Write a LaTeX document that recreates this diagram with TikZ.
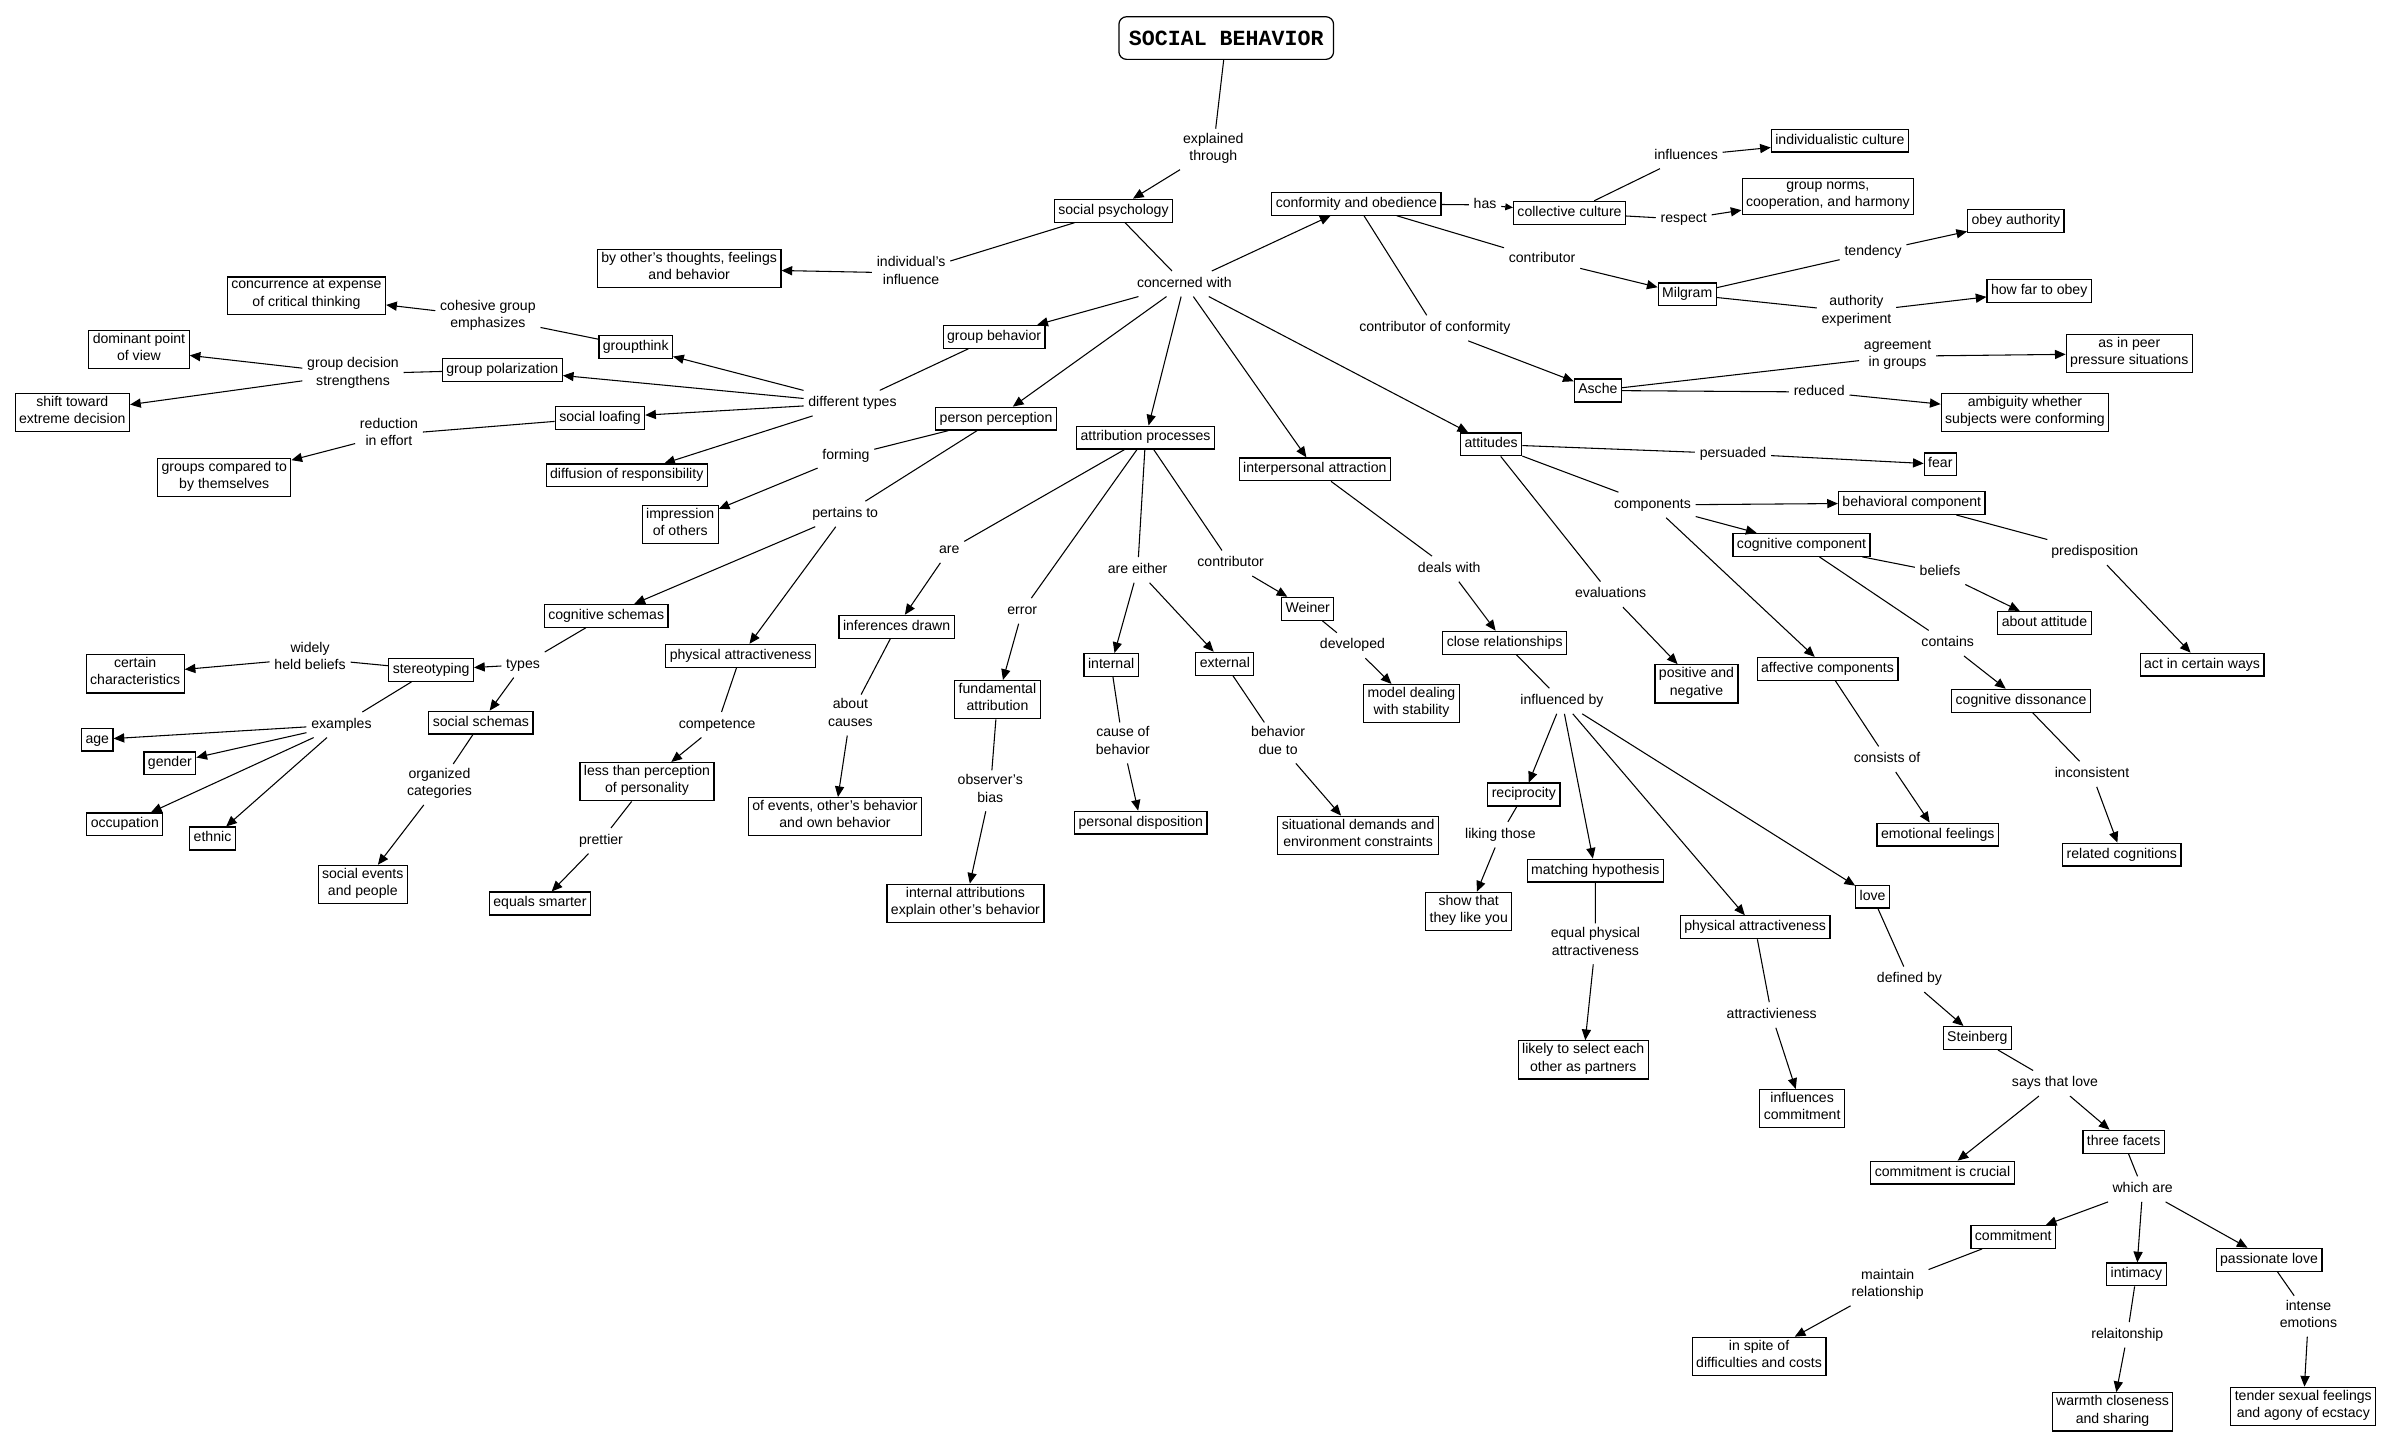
\documentclass[tikz,border=0pt]{standalone}
\usepackage{fontspec}
\setmainfont{Liberation Sans}
\newfontfamily\titlefont{Liberation Mono}
\usetikzlibrary{arrows.meta}
\newcommand\mapfont{\fontsize{9.25pt}{11.4pt}\selectfont}
\begin{document}
\begin{tikzpicture}[x=1pt,y=-1pt,
 every node/.style={font=\mapfont},
 concept/.style={draw, line width=0.8pt, inner xsep=2.6pt, inner ysep=1.8pt, align=center, execute at begin node=\strut, execute at end node=\strut},
 lnk/.style={inner xsep=3pt, inner ysep=2.5pt, align=center, execute at begin node=\strut, execute at end node=\strut},
 title/.style={draw, line width=0.8pt, rounded corners=5pt, minimum width=141pt, minimum height=28pt, font={\titlefont\bfseries\fontsize{14.2pt}{17pt}\selectfont}},
 ln/.style={line width=0.7pt},
 arr/.style={line width=0.7pt, -{Triangle[length=7pt,width=6pt]}},
 sarr/.style={line width=0.7pt, -{Triangle[length=5pt,width=4.5pt]}}]
\useasboundingbox (0,0) rectangle (1568,954);
\fill[white] (0,0) rectangle (1568,954);
% ---------- concepts ----------
\node[title] (sb) at (805.5,25) {SOCIAL BEHAVIOR};
\node[concept] (sp) at (731.4,138.4) {social psychology};
\node[concept] (co) at (891,133.8) {conformity and obedience};
\node[concept] (cc) at (1031,139.8) {collective culture};
\node[concept] (ic) at (1208.6,92.4) {individualistic culture};
\node[concept] (gn) at (1200.7,129.2) {group norms,\\cooperation, and harmony};
\node[concept] (bo) at (452.7,176.5) {by other's thoughts, feelings\\and behavior};
\node[concept] (gb) at (653,221.2) {group behavior};
\node[concept] (pp) at (654.3,275) {person perception};
\node[concept] (ap) at (752.5,287.4) {attribution processes};
\node[concept] (ia) at (863.7,308.3) {interpersonal attraction};
\node[concept] (at) at (979.5,291.9) {attitudes};
\node[concept] (mil) at (1108.3,193.4) {Milgram};
\node[concept] (oa) at (1324.2,145) {obey authority};
\node[concept] (hf) at (1339.5,191) {how far to obey};
\node[concept] (as) at (1049.6,256.5) {Asche};
\node[concept] (pe) at (1398.7,232.3) {as in peer\\pressure situations};
\node[concept] (am) at (1330.2,271) {ambiguity whether\\subjects were conforming};
\node[concept] (fe) at (1274.6,305) {fear};
\node[concept] (gt) at (417.6,227.8) {groupthink};
\node[concept] (gpz) at (330,242.9) {group polarization};
\node[concept] (sl) at (394.1,274.4) {social loafing};
\node[concept] (dr) at (411.7,312.3) {diffusion of responsibility};
\node[concept] (con) at (201.3,194.2) {concurrence at expense\\of critical thinking};
\node[concept] (dp) at (91.3,229.7) {dominant point\\of view};
\node[concept] (st) at (47.5,271) {shift toward\\extreme decision};
\node[concept] (gc) at (147.3,313.7) {groups compared to\\by themselves};
\node[concept] (io) at (446.8,344.7) {impression\\of others};
\node[concept] (cs) at (398.2,404.5) {cognitive schemas};
\node[concept] (pa1) at (486.5,430.8) {physical attractiveness};
\node[concept] (ste) at (283.2,440) {stereotyping};
\node[concept] (ss) at (315.9,474.7) {social schemas};
\node[concept] (cch) at (88.8,442.6) {certain\\characteristics};
\node[concept] (age) at (63.9,485.8) {age};
\node[concept] (gen) at (111.6,501.5) {gender};
\node[concept] (occ) at (82,541.5) {occupation};
\node[concept] (eth) at (139.6,550.8) {ethnic};
\node[concept] (se) at (238.3,581) {social events\\and people};
\node[concept] (lt) at (425,513.5) {less than perception\\of personality};
\node[concept] (es) at (354.7,593.5) {equals smarter};
\node[concept] (id) at (589,411.7) {inferences drawn};
\node[concept] (oe) at (548.5,536.5) {of events, other's behavior\\and own behavior};
\node[concept] (fa) at (655.2,459.6) {fundamental\\attribution};
\node[concept] (iae) at (634.2,593.4) {internal attributions\\explain other's behavior};
\node[concept] (int) at (729.9,436.8) {internal};
\node[concept] (ext) at (804.6,436) {external};
\node[concept] (pd) at (749.4,540.4) {personal disposition};
\node[concept] (sd) at (892.1,548.7) {situational demands and\\environment constraints};
\node[concept] (wei) at (859,399.9) {Weiner};
\node[concept] (md) at (927.2,462.2) {model dealing\\with stability};
\node[concept] (cr) at (988.4,422.2) {close relationships};
\node[concept] (rec) at (1001,521.9) {reciprocity};
\node[concept] (sh) at (964.8,598.7) {show that\\they like you};
\node[concept] (mh) at (1047.9,571.9) {matching hypothesis};
\node[concept] (lk) at (1040,696.2) {likely to select each\\other as partners};
\node[concept] (pa2) at (1152.9,609.1) {physical attractiveness};
\node[concept] (icm) at (1183.8,728.3) {influences\\commitment};
\node[concept] (lov) at (1230.1,589) {love};
\node[concept] (stn) at (1298.9,681.8) {Steinberg};
\node[concept] (cic) at (1276,770.3) {commitment is crucial};
\node[concept] (tf) at (1395,750) {three facets};
\node[concept] (com) at (1322.5,812.5) {commitment};
\node[concept] (inti) at (1403.4,837.1) {intimacy};
\node[concept] (pl) at (1490.5,827.5) {passionate love};
\node[concept] (isp) at (1155.5,891) {in spite of\\difficulties and costs};
\node[concept] (wc) at (1387.7,927.4) {warmth closeness\\and sharing};
\node[concept] (ts) at (1513,923.8) {tender sexual feelings\\and agony of ecstacy};
\node[concept] (pn) at (1114.4,449.2) {positive and\\negative};
\node[concept] (bc) at (1255.8,330.4) {behavioral component};
\node[concept] (cgc) at (1183.4,357.9) {cognitive component};
\node[concept] (afc) at (1200.5,439.4) {affective components};
\node[concept] (acw) at (1446.5,436.6) {act in certain ways};
\node[concept] (aat) at (1343,409.2) {about attitude};
\node[concept] (cd) at (1327.6,460.3) {cognitive dissonance};
\node[concept] (rc) at (1393.8,561.4) {related cognitions};
\node[concept] (ef) at (1272.9,548.2) {emotional feelings};
% ---------- linking phrases ----------
\node[lnk] (lexpl) at (797,98) {explained\\through};
\node[lnk] (lii) at (598.5,179.4) {individual's\\influence};
\node[lnk] (lcw) at (778,186.4) {concerned with};
\node[lnk] (lhas) at (975.5,134.6) {has};
\node[lnk] (linfl) at (1107.6,102.4) {influences};
\node[lnk] (lresp) at (1106,144) {respect};
\node[lnk] (lcontr) at (1013,170.2) {contributor};
\node[lnk] (ltend) at (1230.4,165.6) {tendency};
\node[lnk] (lae) at (1219.5,205) {authority\\experiment};
\node[lnk] (lcoc) at (942.5,215.5) {contributor of conformity};
\node[lnk] (laig) at (1246.5,234) {agreement\\in groups};
\node[lnk] (lred) at (1195,257.5) {reduced};
\node[lnk] (lpers) at (1138.4,298) {persuaded};
\node[lnk] (ldt) at (560,264.8) {different types};
\node[lnk] (lcge) at (320.5,208.1) {cohesive group\\emphasizes};
\node[lnk] (lgds) at (231.9,245.6) {group decision\\strengthens};
\node[lnk] (lrie) at (255.5,285.6) {reduction\\in effort};
\node[lnk] (lform) at (555.7,299.8) {forming};
\node[lnk] (lpt) at (555.2,337.6) {pertains to};
\node[lnk] (ltypes) at (343.6,436.7) {types};
\node[lnk] (lwhb) at (203.7,432.4) {widely\\held beliefs};
\node[lnk] (lex) at (224.3,476.1) {examples};
\node[lnk] (loc) at (288.7,515.3) {organized\\categories};
\node[lnk] (lcomp) at (471.1,476.1) {competence};
\node[lnk] (lpret) at (394.8,552.3) {prettier};
\node[lnk] (lare) at (623.5,361.3) {are};
\node[lnk] (lac) at (558.6,469.7) {about\\causes};
\node[lnk] (lerr) at (671.5,401.3) {error};
\node[lnk] (lob) at (650.5,519.5) {observer's\\bias};
\node[lnk] (laet) at (747.3,374.4) {are either};
\node[lnk] (lcob) at (737.6,488) {cause of\\behavior};
\node[lnk] (lbdt) at (839.6,488) {behavior\\due to};
\node[lnk] (lcontrb) at (808.4,370) {contributor};
\node[lnk] (ldev) at (888.4,424) {developed};
\node[lnk] (ldw) at (952,373.7) {deals with};
\node[lnk] (lib) at (1026,460.5) {influenced by};
\node[lnk] (llt) at (985.6,548.3) {liking those};
\node[lnk] (lepa) at (1048,620) {equal physical\\attractiveness};
\node[lnk] (lattr) at (1163.8,666.7) {attractivieness};
\node[lnk] (ldef) at (1254.3,643.3) {defined by};
\node[lnk] (lstl) at (1349.9,711.6) {says that love};
\node[lnk] (lwa) at (1407.5,781.1) {which are};
\node[lnk] (lmr) at (1240,844.3) {maintain\\relationship};
\node[lnk] (lrel) at (1397.4,876.8) {relaitonship};
\node[lnk] (lie) at (1516.4,864.6) {intense\\emotions};
\node[lnk] (leval) at (1058,390.4) {evaluations};
\node[lnk] (lcomps) at (1085.5,331.7) {components};
\node[lnk] (lpred) at (1376,362.8) {predisposition};
\node[lnk] (lbel) at (1274.4,375.9) {beliefs};
\node[lnk] (lcont) at (1279.4,422.5) {contains};
\node[lnk] (linc) at (1374.2,508.5) {inconsistent};
\node[lnk] (lcons) at (1239.6,498.7) {consists of};
% ---------- connectors ----------
\draw[ln] (sb) -- (lexpl); \draw[arr] (lexpl) -- (sp);
\draw[ln] (sp) -- (lii); \draw[arr] (lii) -- (bo);
\draw[ln] (sp) -- (lcw);
\draw[arr] (lcw) -- (co); \draw[arr] (lcw) -- (gb); \draw[arr] (lcw) -- (pp);
\draw[arr] (lcw) -- (ap); \draw[arr] (lcw) -- (ia); \draw[arr] (lcw) -- (at);
\draw[ln] (co) -- (lhas); \draw[sarr] (lhas) -- (cc);
\draw[ln] (cc) -- (linfl); \draw[arr] (linfl) -- (ic);
\draw[ln] (cc) -- (lresp); \draw[arr] (lresp) -- (gn);
\draw[ln] (co) -- (lcontr); \draw[arr] (lcontr) -- (mil);
\draw[ln] (mil) -- (ltend); \draw[arr] (ltend) -- (oa);
\draw[ln] (mil) -- (lae); \draw[arr] (lae) -- (hf);
\draw[ln] (co) -- (lcoc); \draw[arr] (lcoc) -- (as);
\draw[ln] (as) -- (laig); \draw[arr] (laig) -- (pe);
\draw[ln] (as) -- (lred); \draw[arr] (lred) -- (am);
\draw[ln] (at) -- (lpers); \draw[arr] (lpers) -- (fe);
\draw[ln] (gb) -- (ldt);
\draw[arr] (ldt) -- (gt); \draw[arr] (ldt) -- (gpz); \draw[arr] (ldt) -- (sl); \draw[arr] (ldt) -- (dr);
\draw[ln] (gt) -- (lcge); \draw[arr] (lcge) -- (con);
\draw[ln] (gpz) -- (lgds); \draw[arr] (lgds) -- (dp); \draw[arr] (lgds) -- (st);
\draw[ln] (sl) -- (lrie); \draw[arr] (lrie) -- (gc);
\draw[ln] (pp) -- (lform); \draw[arr] (lform) -- (io);
\draw[ln] (pp) -- (lpt); \draw[arr] (lpt) -- (cs); \draw[arr] (lpt) -- (pa1);
\draw[ln] (cs) -- (ltypes); \draw[arr] (ltypes) -- (ste); \draw[arr] (ltypes) -- (ss);
\draw[ln] (ste) -- (lwhb); \draw[arr] (lwhb) -- (cch);
\draw[ln] (ste) -- (lex);
\draw[arr] (lex) -- (age); \draw[arr] (lex) -- (gen); \draw[arr] (lex) -- (occ); \draw[arr] (lex) -- (eth);
\draw[ln] (ss) -- (loc); \draw[arr] (loc) -- (se);
\draw[ln] (pa1) -- (lcomp); \draw[arr] (lcomp) -- (lt);
\draw[ln] (lt) -- (lpret); \draw[arr] (lpret) -- (es);
\draw[ln] (ap) -- (lare); \draw[arr] (lare) -- (id);
\draw[ln] (id) -- (lac); \draw[arr] (lac) -- (oe);
\draw[ln] (ap) -- (lerr); \draw[arr] (lerr) -- (fa);
\draw[ln] (fa) -- (lob); \draw[arr] (lob) -- (iae);
\draw[ln] (ap) -- (laet); \draw[arr] (laet) -- (int); \draw[arr] (laet) -- (ext);
\draw[ln] (int) -- (lcob); \draw[arr] (lcob) -- (pd);
\draw[ln] (ext) -- (lbdt); \draw[arr] (lbdt) -- (sd);
\draw[ln] (ap) -- (lcontrb); \draw[arr] (lcontrb) -- (wei);
\draw[ln] (wei) -- (ldev); \draw[arr] (ldev) -- (md);
\draw[ln] (ia) -- (ldw); \draw[arr] (ldw) -- (cr);
\draw[ln] (cr) -- (lib);
\draw[arr] (lib) -- (rec); \draw[arr] (lib) -- (mh); \draw[arr] (lib) -- (pa2); \draw[arr] (lib) -- (lov);
\draw[ln] (rec) -- (llt); \draw[arr] (llt) -- (sh);
\draw[ln] (mh) -- (lepa); \draw[arr] (lepa) -- (lk);
\draw[ln] (pa2) -- (lattr); \draw[arr] (lattr) -- (icm);
\draw[ln] (lov) -- (ldef); \draw[arr] (ldef) -- (stn);
\draw[ln] (stn) -- (lstl); \draw[arr] (lstl) -- (cic); \draw[arr] (lstl) -- (tf);
\draw[ln] (tf) -- (lwa); \draw[arr] (lwa) -- (com); \draw[arr] (lwa) -- (inti); \draw[arr] (lwa) -- (pl);
\draw[ln] (com) -- (lmr); \draw[arr] (lmr) -- (isp);
\draw[ln] (inti) -- (lrel); \draw[arr] (lrel) -- (wc);
\draw[ln] (pl) -- (lie); \draw[arr] (lie) -- (ts);
\draw[ln] (at) -- (leval); \draw[arr] (leval) -- (pn);
\draw[ln] (at) -- (lcomps);
\draw[arr] (lcomps) -- (bc); \draw[arr] (lcomps) -- (cgc); \draw[arr] (lcomps) -- (afc);
\draw[ln] (bc) -- (lpred); \draw[arr] (lpred) -- (acw);
\draw[ln] (cgc) -- (lbel); \draw[arr] (lbel) -- (aat);
\draw[ln] (cgc) -- (lcont); \draw[arr] (lcont) -- (cd);
\draw[ln] (cd) -- (linc); \draw[arr] (linc) -- (rc);
\draw[ln] (afc) -- (lcons); \draw[arr] (lcons) -- (ef);
\end{tikzpicture}
\end{document}
